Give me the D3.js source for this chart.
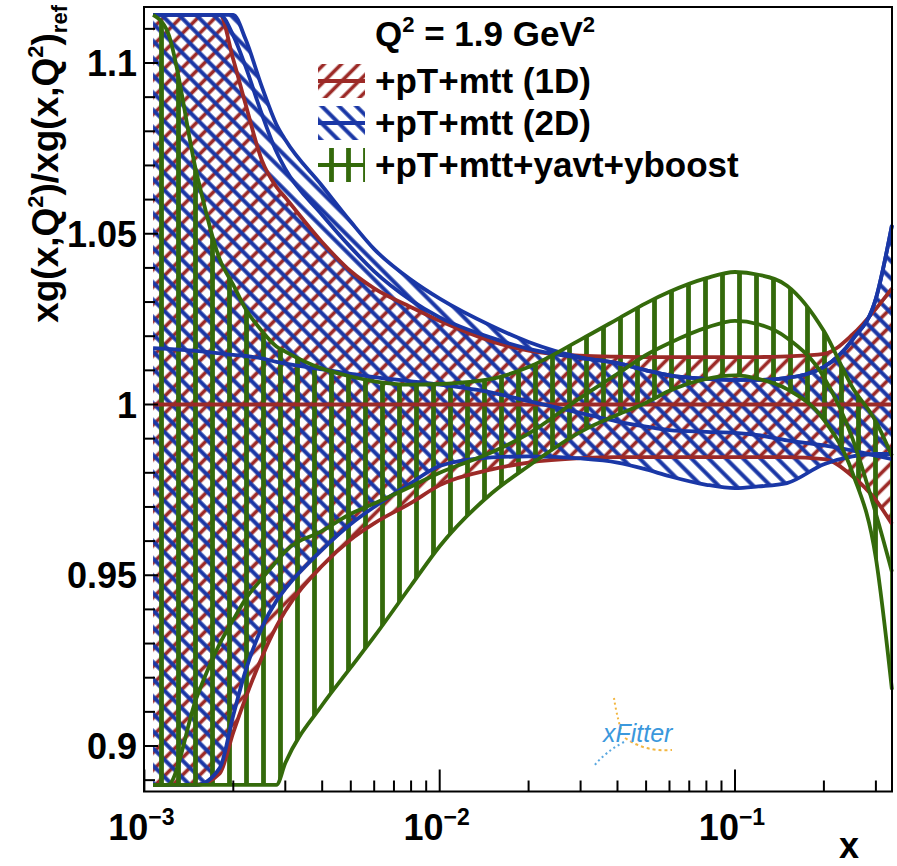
<!DOCTYPE html>
<html><head><meta charset="utf-8">
<script src="https://cdn.jsdelivr.net/npm/d3@7"></script>
<style>
body{margin:0;background:#fff}
svg{display:block}
text{font-family:"Liberation Sans",Arial,Helvetica,sans-serif;font-weight:bold;fill:#000}
</style>
</head><body>
<svg id="chart" width="897" height="866"></svg>
<script>
// ---------------- data ----------------
const xGrid = [0.00107, 0.0012, 0.0015, 0.0018, 0.002, 0.0022, 0.0025, 0.0028, 0.003, 0.004, 0.005, 0.006, 0.008, 0.01, 0.015, 0.02, 0.03, 0.04, 0.05, 0.06, 0.08, 0.1, 0.12, 0.15, 0.2, 0.25, 0.3, 0.34];

const red1DUpper   = [1.25, 1.22, 1.16, 1.116, 1.101, 1.088, 1.0715, 1.0637, 1.0606, 1.0475, 1.039, 1.034, 1.0285, 1.0245, 1.0185, 1.0158, 1.0143, 1.014, 1.0139, 1.0139, 1.0139, 1.0139, 1.0139, 1.0141, 1.0148, 1.0205, 1.028, 1.034];
const red1DCentral = [1, 1, 1, 1, 1, 1, 1, 1, 1, 1, 1, 1, 1, 1, 1, 1, 1, 1, 1, 1, 1, 1, 1, 1, 1, 1, 1, 1];
const red1DLower   = [0.75, 0.78, 0.84, 0.892, 0.904, 0.914, 0.926, 0.935, 0.9395, 0.9528, 0.9605, 0.9652, 0.9712, 0.9764, 0.981, 0.983, 0.9843, 0.9846, 0.9846, 0.9846, 0.9846, 0.9846, 0.9846, 0.9846, 0.984, 0.979, 0.972, 0.965];

const blue2DUpper      = [1.25, 1.22, 1.17, 1.135, 1.118, 1.107, 1.093, 1.082, 1.0775, 1.064, 1.0535, 1.0455, 1.0365, 1.031, 1.023, 1.0183, 1.0138, 1.0121, 1.010, 1.0085, 1.0075, 1.0072, 1.0072, 1.0078, 1.011, 1.019, 1.031, 1.0525];
const blue2DUpperInner = [1.25, 1.22, 1.16, 1.118, 1.108, 1.099, 1.085, 1.074, 1.069, 1.0555, 1.046, 1.039, 1.0305, 1.0255, 1.0195, 1.0163, 1.0136, 1.0121, 1.010, 1.0085, 1.0075, 1.0072, 1.0072, 1.0078, 1.011, 1.019, 1.031, 1.0525];
const blue2DCentral    = [1.0165, 1.0163, 1.0157, 1.015, 1.0145, 1.0142, 1.0135, 1.0125, 1.012, 1.0103, 1.009, 1.008, 1.0068, 1.0058, 1.0035, 1.001, 0.9975, 0.995, 0.9935, 0.9925, 0.992, 0.9917, 0.991, 0.9895, 0.988, 0.9865, 0.985, 0.984];
const blue2DLower      = [0.75, 0.78, 0.84, 0.8936, 0.909, 0.922, 0.9347, 0.9425, 0.946, 0.9575, 0.965, 0.970, 0.977, 0.982, 0.9845, 0.9848, 0.9842, 0.983, 0.981, 0.979, 0.9765, 0.9755, 0.976, 0.977, 0.9825, 0.9848, 0.9855, 0.9855];

const greenUpper   = [1.125, 1.109, 1.068, 1.0425, 1.035, 1.028, 1.0215, 1.017, 1.0155, 1.0105, 1.0082, 1.0068, 1.0058, 1.006, 1.0075, 1.011, 1.019, 1.025, 1.0297, 1.033, 1.037, 1.0388, 1.038, 1.0348, 1.0215, 1.005, 0.995, 0.985];
const greenCentral = [0.80, 0.86, 0.914, 0.930, 0.937, 0.943, 0.949, 0.954, 0.957, 0.963, 0.968, 0.971, 0.976, 0.980, 0.986, 0.9915, 1.002, 1.009, 1.0145, 1.018, 1.0225, 1.0245, 1.0235, 1.0195, 1.008, 0.99, 0.968, 0.951];
const greenLower   = [0.45, 0.64, 0.756, 0.815, 0.839, 0.858, 0.8765, 0.888, 0.895, 0.912, 0.923, 0.932, 0.947, 0.9585, 0.974, 0.982, 0.992, 0.997, 1.0005, 1.004, 1.0075, 1.0085, 1.0075, 1.0045, 0.9955, 0.980, 0.955, 0.9165];

const seriesNames = ["+pT+mtt (1D)", "+pT+mtt (2D)", "+pT+mtt+yavt+yboost"];
const yMajorTicks = [0.9, 0.95, 1.0, 1.05, 1.1];
const yTickLabels = ["0.9", "0.95", "1", "1.05", "1.1"];
const xMajorTicks = [0.001, 0.01, 0.1];
const xTickExponents = ["\u22123", "\u22122", "\u22121"];

// ---------------- layout ----------------
const svg = d3.select("#chart");
const L = 144, R = 892, T = 7, B = 791.5;
const x = d3.scaleLog().domain([0.001, 0.342]).range([144.4, 892.7]);
const y = d3.scaleLinear().domain([0.9, 1.1]).range([746, 63]);
const CLIP_LO = 0.8886, CLIP_HI = 1.1141;
const clampV = v => Math.max(CLIP_LO, Math.min(CLIP_HI, v));

const RED = "#9c2a27", BLUE = "#1a37a6", GREEN = "#346a0b";

const defs = svg.append("defs");
function hatch(id, color, angle, spacing, width) {
  const p = defs.append("pattern").attr("id", id)
    .attr("patternUnits", "userSpaceOnUse")
    .attr("width", spacing).attr("height", 20)
    .attr("patternTransform", `rotate(${angle})`);
  p.append("line").attr("x1", spacing / 2).attr("x2", spacing / 2)
    .attr("y1", 0).attr("y2", 20)
    .attr("stroke", color).attr("stroke-width", width);
}
hatch("hRed", RED, 45, 12.2, 3.6);
hatch("hBlue", BLUE, -45, 12.2, 4);
hatch("hGreen", GREEN, 0, 17, 4.8);

const series = [
  {name: seriesNames[0], color: RED, pat: "hRed", lo: red1DLower, c: red1DCentral, up: red1DUpper, extra: []},
  {name: seriesNames[1], color: BLUE, pat: "hBlue", lo: blue2DLower, c: blue2DCentral, up: blue2DUpper, extra: [blue2DUpperInner]},
  {name: seriesNames[2], color: GREEN, pat: "hGreen", lo: greenLower, c: greenCentral, up: greenUpper, extra: []}
];

const gData = svg.append("g");
series.forEach(s => {
  const area = d3.area()
    .x((d, i) => x(xGrid[i]))
    .y0((d, i) => y(clampV(s.lo[i])))
    .y1((d, i) => y(clampV(s.up[i])))
    .curve(d3.curveMonotoneX);
  gData.append("path").attr("d", area(xGrid)).attr("fill", `url(#${s.pat})`).attr("stroke", "none");
});
series.forEach(s => {
  [s.up, s.lo, s.c].concat(s.extra).forEach(arr => {
    const line = d3.line()
      .x((d, i) => x(xGrid[i]))
      .y((d, i) => y(clampV(arr[i])))
      .curve(d3.curveMonotoneX);
    gData.append("path").attr("d", line(xGrid)).attr("fill", "none")
      .attr("stroke", s.color).attr("stroke-width", 3.8).attr("stroke-linejoin", "round");
  });
});

// ---------------- axes ----------------
const gAx = svg.append("g").attr("stroke", "#000");
d3.range(89, 112, 1).forEach(k => {
  const v = k / 100;
  const major = (k % 5 === 0);
  gAx.append("line").attr("x1", L).attr("x2", L + (major ? 14 : 11))
    .attr("y1", y(v)).attr("y2", y(v)).attr("stroke-width", 2);
});
yMajorTicks.forEach((v, i) => {
  svg.append("text").attr("x", 137).attr("y", y(v) + 13)
    .attr("text-anchor", "end").attr("font-size", 36).text(yTickLabels[i]);
});
const xMinor = [];
[0.001, 0.01, 0.1].forEach(dec => { for (let m = 2; m <= 9; m++) { if (dec * m < 0.342) xMinor.push(dec * m); } });
xMinor.forEach(v => {
  gAx.append("line").attr("x1", x(v)).attr("x2", x(v)).attr("y1", B).attr("y2", B - 11).attr("stroke-width", 2);
});
xMajorTicks.forEach((v, i) => {
  gAx.append("line").attr("x1", x(v)).attr("x2", x(v)).attr("y1", B).attr("y2", B - 22).attr("stroke-width", 2);
  const t = svg.append("text").attr("x", x(v) - 3).attr("y", 840).attr("text-anchor", "middle").attr("font-size", 36);
  t.append("tspan").text("10");
  t.append("tspan").attr("font-size", 23).attr("dy", -15).text(xTickExponents[i]);
});
svg.append("rect").attr("x", L).attr("y", T).attr("width", R - L).attr("height", B - T)
  .attr("fill", "none").attr("stroke", "#000").attr("stroke-width", 2);

// axis titles
svg.append("text").attr("x", 859).attr("y", 858).attr("text-anchor", "end").attr("font-size", 36).text("x");
const yt = svg.append("text").attr("transform", "translate(58,5) rotate(-90)")
  .attr("text-anchor", "end").attr("font-size", 37);
yt.append("tspan").text("xg(x,Q");
yt.append("tspan").attr("font-size", 22).attr("dy", -15).text("2");
yt.append("tspan").attr("dy", 15).text(")/xg(x,Q");
yt.append("tspan").attr("font-size", 22).attr("dy", -15).text("2");
yt.append("tspan").attr("dy", 15).text(")");
yt.append("tspan").attr("font-size", 22).attr("dy", 9).text("ref");

// ---------------- legend ----------------
const lg = svg.append("g");
const hdr = lg.append("text").attr("x", 375).attr("y", 46).attr("font-size", 35);
hdr.append("tspan").text("Q");
hdr.append("tspan").attr("font-size", 22).attr("dy", -14).text("2");
hdr.append("tspan").attr("dy", 14).text(" = 1.9 GeV");
hdr.append("tspan").attr("font-size", 22).attr("dy", -14).text("2");
const rowY = [93, 135, 177];
series.forEach((s, i) => {
  const cy = rowY[i] - 12;
  lg.append("rect").attr("x", 318).attr("y", cy - 17).attr("width", 47).attr("height", 34)
    .attr("fill", `url(#${s.pat})`);
  lg.append("line").attr("x1", 318).attr("x2", 365).attr("y1", cy).attr("y2", cy)
    .attr("stroke", s.color).attr("stroke-width", 3.8);
  lg.append("text").attr("x", 375).attr("y", rowY[i]).attr("font-size", 35).text(s.name);
});

// ---------------- xFitter logo ----------------
const logo = svg.append("g");
logo.append("path").attr("d", "M614,698 Q616,712 621,730").attr("fill", "none")
  .attr("stroke", "#f2b640").attr("stroke-width", 2).attr("stroke-dasharray", "2,3");
logo.append("path").attr("d", "M625,738 Q645,752 672,750").attr("fill", "none")
  .attr("stroke", "#f2b640").attr("stroke-width", 2).attr("stroke-dasharray", "3,3");
logo.append("path").attr("d", "M624,742 Q605,752 594,766").attr("fill", "none")
  .attr("stroke", "#5aa8e0").attr("stroke-width", 2).attr("stroke-dasharray", "2,3");
logo.append("text").attr("x", 603).attr("y", 742).attr("font-size", 25)
  .attr("font-style", "italic").style("font-weight", "normal")
  .style("fill", "#3b98dc").text("xFitter");
</script>
</body></html>
